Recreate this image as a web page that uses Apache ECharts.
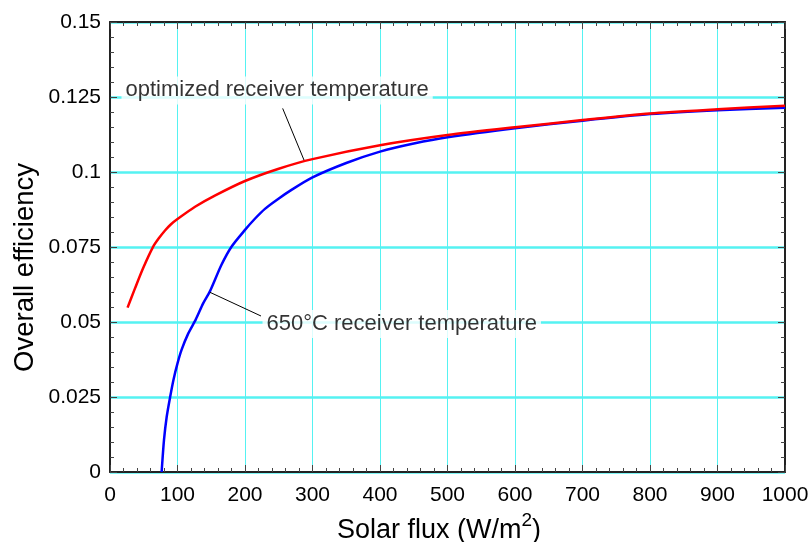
<!DOCTYPE html>
<html>
<head>
<meta charset="utf-8">
<script src="https://cdn.jsdelivr.net/npm/echarts@6/dist/echarts.min.js"></script>
<style>
  html, body { margin: 0; padding: 0; background: #fff; }
  #chart { width: 812px; height: 542px; }
</style>
</head>
<body>
<div id="chart"></div>
<script>
// optimized receiver temperature (red)
const optFlux = [26, 37, 49, 64, 72, 81.5, 90, 100, 126, 156, 200, 250, 300, 400, 500, 600, 700, 800, 900, 1000];
const optEff = [0.0548, 0.0612, 0.0679, 0.0751, 0.0778, 0.0805, 0.0825, 0.0843, 0.0884, 0.0922, 0.097, 0.1011, 0.1043, 0.1089, 0.1123, 0.1149, 0.1173, 0.1195, 0.1209, 0.1221];

// 650°C receiver temperature (blue)
const fixFlux = [76.5, 80, 84, 89, 94, 100, 106, 116, 127, 138, 148, 165, 180, 200, 215, 230, 247, 270, 300, 350, 400, 450, 500, 600, 700, 800, 900, 1000];
const fixEff = [0, 0.0107, 0.0184, 0.0249, 0.0307, 0.0362, 0.0407, 0.0462, 0.0508, 0.0562, 0.0602, 0.069, 0.0751, 0.0807, 0.0845, 0.0878, 0.0907, 0.0942, 0.0982, 0.103, 0.1068, 0.1095, 0.1116, 0.1146, 0.1171, 0.1193, 0.1206, 0.1214];

const xTicks = [0, 100, 200, 300, 400, 500, 600, 700, 800, 900, 1000];
const yTickLabels = ['0', '0.025', '0.05', '0.075', '0.1', '0.125', '0.15'];

// annotations: text anchor and leader line ends
const annoText = ['optimized receiver temperature', '650°C receiver temperature'];
const annoPos = [[16.3, 0.1272], [225.2, 0.0493]];
const leader1 = [[255.8, 0.1212], [287.4, 0.104]];
const leader2 = [[148.1, 0.0599], [223.7, 0.052]];

const font = "'Liberation Sans', Arial, sans-serif";
const cyan = '#55f2f2';

function pairs(xs, ys) {
	return xs.map((x, i) => [x, ys[i]]);
}

const chart = echarts.init(document.getElementById('chart'));

const baseX = {
	type: 'value',
	min: 0,
	max: 1000,
	interval: 100,
	axisLine: { show: true, onZero: false, lineStyle: { color: '#222', width: 2 } },
	axisTick: { show: true, inside: true, length: 7, lineStyle: { color: '#444' } },
	minorTick: { show: true, splitNumber: 5, length: 4, lineStyle: { color: '#444' } },
	splitLine: { show: false }
};
const baseY = {
	type: 'value',
	min: 0,
	max: 0.15,
	interval: 0.025,
	axisLine: { show: true, onZero: false, lineStyle: { color: '#222', width: 2 } },
	axisTick: { show: true, inside: true, length: 7, lineStyle: { color: '#444' } },
	minorTick: { show: true, splitNumber: 5, length: 4, lineStyle: { color: '#444' } },
	splitLine: { show: false }
};

option = {
	backgroundColor: '#fff',
	animation: false,
	grid: { left: 110, right: 27, top: 22, bottom: 70 },
	xAxis: [
		Object.assign({}, baseX, {
			position: 'bottom',
			axisLabel: {
				fontFamily: font, fontSize: 21, color: '#000', margin: 13,
				formatter: v => String(xTicks[Math.round(v / 100)])
			},
			splitLine: { show: true, lineStyle: { color: cyan, width: 1 } }
		}),
		Object.assign({}, baseX, { position: 'top', axisLabel: { show: false } })
	],
	yAxis: [
		Object.assign({}, baseY, {
			position: 'left',
			axisLabel: {
				fontFamily: font, fontSize: 21, color: '#000', margin: 9,
				formatter: v => yTickLabels[Math.round(v / 0.025)]
			},
			splitLine: { show: true, lineStyle: { color: cyan, width: 2.5 } }
		}),
		Object.assign({}, baseY, { position: 'right', axisLabel: { show: false } })
	],
	graphic: [{
		type: 'text',
		left: 11,
		top: 163,
		rotation: Math.PI / 2,
		style: { text: 'Overall efficiency', font: "27.5px 'Liberation Sans', Arial, sans-serif", fill: '#000' }
	}, {
		type: 'text',
		left: 337,
		top: 511,
		style: {
			text: 'Solar flux (W/m{sup|2})',
			font: "27px 'Liberation Sans', Arial, sans-serif",
			fill: '#000',
			lineHeight: 40,
			rich: { sup: { font: "19px 'Liberation Sans', Arial, sans-serif", lineHeight: 19, verticalAlign: 'top', fill: '#000' } }
		}
	}],
	series: [
		{
			name: 'optimized',
			type: 'line',
			data: pairs(optFlux, optEff),
			smooth: 0.25,
			showSymbol: false,
			lineStyle: { color: '#ff0000', width: 2.5 },
			z: 4
		},
		{
			name: '650',
			type: 'line',
			data: pairs(fixFlux, fixEff),
			smooth: 0.25,
			showSymbol: false,
			lineStyle: { color: '#0000ff', width: 2.5 },
			z: 3
		},
		{
			type: 'line',
			data: leader1,
			showSymbol: false,
			silent: true,
			lineStyle: { color: '#000', width: 1 },
			z: 5
		},
		{
			type: 'line',
			data: leader2,
			showSymbol: false,
			silent: true,
			lineStyle: { color: '#000', width: 1 },
			z: 5
		},
		{
			type: 'scatter',
			symbolSize: 1,
			itemStyle: { color: 'rgba(0,0,0,0)' },
			silent: true,
			z: 6,
			data: annoPos.map((p, i) => ({ value: p, name: annoText[i] })),
			label: {
				show: true,
				position: 'right',
				distance: 0,
				formatter: p => p.name,
				fontFamily: font,
				fontSize: 22,
				color: '#000',
				backgroundColor: '#fff',
				padding: [3, 4, 3, 4]
			}
		}
	]
};

chart.setOption(option);
</script>
</body>
</html>
